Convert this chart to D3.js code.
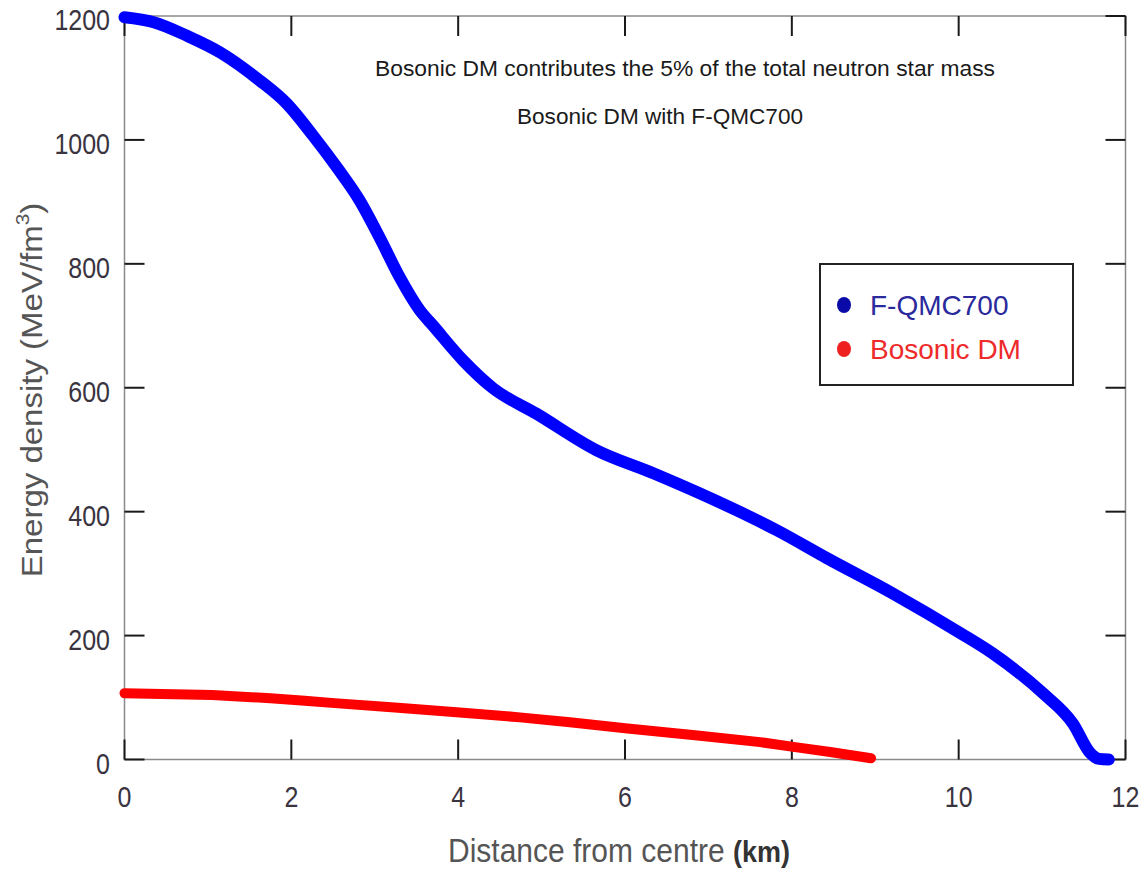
<!DOCTYPE html>
<html>
<head>
<meta charset="utf-8">
<script src="https://cdn.jsdelivr.net/npm/d3@7"></script>
<style>
  html, body { margin: 0; padding: 0; background: #fff; }
  svg { display: block; }
  text { font-family: "Liberation Sans", Arial, sans-serif; }
</style>
</head>
<body>
<svg id="chart" width="1143" height="873"></svg>
<script>
// Energy density profiles (MeV/fm^3) against distance from the centre (km)
const qmcRadius = [0, 0.35, 0.75, 1.15, 1.62, 1.95, 2.26, 2.55, 2.82, 3.06, 3.3, 3.54, 3.7, 4.06, 4.42, 4.94, 5.66, 6.34, 7.34, 7.82, 8.42, 9.21, 10.02, 10.41, 11.01, 11.37, 11.58, 11.68, 11.8];
const qmcDensity = [1198, 1190, 1168, 1141, 1096, 1058, 1007, 955, 902, 842, 778, 725, 700, 644, 599, 558, 499, 462, 402, 370, 325, 268, 204, 171, 107, 58, 10, 1, 0];

const dmRadius = [0, 1.05, 1.75, 2.16, 2.52, 3.24, 4.02, 4.74, 5.34, 6.03, 6.84, 7.62, 8.04, 8.46, 8.95];
const dmDensity = [107, 104, 99, 95, 91, 84, 76, 68, 60, 50, 39, 28, 20, 12, 2];

const xTicks = [0, 2, 4, 6, 8, 10, 12];
const yTicks = [0, 200, 400, 600, 800, 1000, 1200];

const legendItems = [
  { label: "F-QMC700", dot: "#0a0aa8", text: "#2a2a9c" },
  { label: "Bosonic DM", dot: "#ee2020", text: "#ee2a2a" }
];

const notes = [
  "Bosonic DM contributes the 5% of the total neutron star mass",
  "Bosonic DM with F-QMC700"
];

const svg = d3.select("#chart");
const plot = { left: 124.5, right: 1125.5, top: 16, bottom: 759.5 };

const x = d3.scaleLinear().domain([0, 12]).range([plot.left, plot.right]);
const y = d3.scaleLinear().domain([0, 1200]).range([plot.bottom, plot.top]);

// frame
svg.append("rect")
  .attr("x", plot.left).attr("y", plot.top)
  .attr("width", plot.right - plot.left).attr("height", plot.bottom - plot.top)
  .attr("fill", "none").attr("stroke", "#8a8a8a").attr("stroke-width", 1.5);

// inward ticks on all four sides
const tickLen = 20;
const tickG = svg.append("g").attr("stroke", "#1a1a1a").attr("stroke-width", 2);
xTicks.forEach(t => {
  tickG.append("line").attr("x1", x(t)).attr("x2", x(t)).attr("y1", plot.bottom).attr("y2", plot.bottom - tickLen);
  tickG.append("line").attr("x1", x(t)).attr("x2", x(t)).attr("y1", plot.top).attr("y2", plot.top + tickLen);
});
yTicks.forEach(t => {
  tickG.append("line").attr("x1", plot.left).attr("x2", plot.left + tickLen).attr("y1", y(t)).attr("y2", y(t));
  tickG.append("line").attr("x1", plot.right).attr("x2", plot.right - tickLen).attr("y1", y(t)).attr("y2", y(t));
});

// tick labels (slightly tall glyphs)
svg.append("g").selectAll("text").data(xTicks).join("text")
  .attr("transform", d => `translate(${x(d)},807) scale(1,1.2)`)
  .attr("text-anchor", "middle")
  .attr("font-size", 25).attr("fill", "#3a3340")
  .text(d => d);

svg.append("g").selectAll("text").data(yTicks).join("text")
  .attr("transform", d => `translate(110,${y(d) + 14}) scale(1,1.2)`)
  .attr("text-anchor", "end")
  .attr("font-size", 25).attr("fill", "#3a3340")
  .text(d => d);

// axis titles
const xt = svg.append("text")
  .attr("transform", "translate(619,862) scale(1,1.12)")
  .attr("text-anchor", "middle")
  .attr("font-size", 30).attr("fill", "#555");
xt.append("tspan").text("Distance from centre ");
xt.append("tspan").attr("fill", "#333").attr("font-weight", "bold").attr("font-size", 27).text("(km)");

const yt = svg.append("text")
  .attr("transform", "translate(42,390) rotate(-90) scale(1.1,1)")
  .attr("text-anchor", "middle")
  .attr("font-size", 30).attr("fill", "#555");
yt.append("tspan").text("Energy density (MeV/fm");
yt.append("tspan").attr("font-size", 19).attr("dy", -13).text("3");
yt.append("tspan").attr("dy", 13).text(")");

// curves
const line = d3.line().x(d => x(d[0])).y(d => y(d[1])).curve(d3.curveMonotoneX);

svg.append("path")
  .datum(dmRadius.map((r, i) => [r, dmDensity[i]]))
  .attr("d", d3.line().x(d => x(d[0])).y(d => y(d[1])).curve(d3.curveLinear))
  .attr("fill", "none").attr("stroke", "#ff0000")
  .attr("stroke-width", 10).attr("stroke-linecap", "round").attr("stroke-linejoin", "round");

svg.append("path")
  .datum(qmcRadius.map((r, i) => [r, qmcDensity[i]]))
  .attr("d", line)
  .attr("fill", "none").attr("stroke", "#0000ff")
  .attr("stroke-width", 12).attr("stroke-linecap", "round").attr("stroke-linejoin", "round");

// annotations
svg.append("text")
  .attr("x", 685).attr("y", 76)
  .attr("text-anchor", "middle")
  .attr("font-size", 22).attr("fill", "#1a1a1a")
  .attr("textLength", 620).attr("lengthAdjust", "spacingAndGlyphs")
  .text(notes[0]);
svg.append("text")
  .attr("x", 660).attr("y", 124)
  .attr("text-anchor", "middle")
  .attr("font-size", 22).attr("fill", "#1a1a1a")
  .attr("textLength", 286).attr("lengthAdjust", "spacingAndGlyphs")
  .text(notes[1]);

// legend
const lg = svg.append("g");
lg.append("rect")
  .attr("x", 820).attr("y", 264).attr("width", 253).attr("height", 121)
  .attr("fill", "#fff").attr("stroke", "#222").attr("stroke-width", 2);
legendItems.forEach((d, i) => {
  const cy = 305 + i * 44;
  lg.append("ellipse").attr("cx", 844).attr("cy", cy).attr("rx", 7).attr("ry", 8).attr("fill", d.dot);
  lg.append("text")
    .attr("x", 870).attr("y", cy + 10)
    .attr("font-family", "'Open Sans', 'Noto Sans', sans-serif")
    .attr("font-size", 28).attr("fill", d.text)
    .text(d.label);
});
</script>
</body>
</html>
